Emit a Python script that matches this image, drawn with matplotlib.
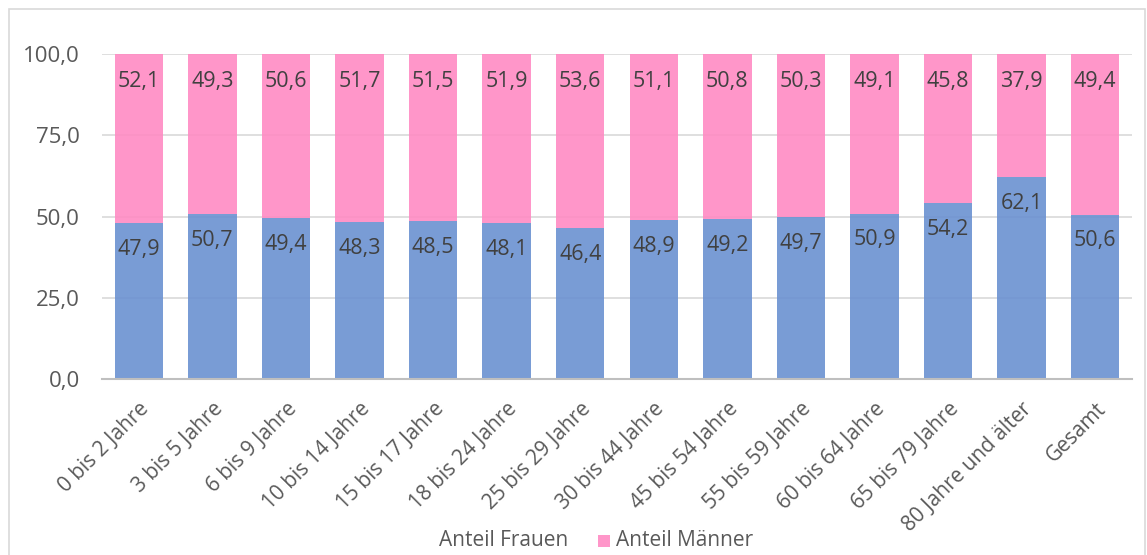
import matplotlib
matplotlib.use("Agg")
import matplotlib.pyplot as plt
from matplotlib.patches import Rectangle
import numpy as np

categories = ["0 bis 2 Jahre", "3 bis 5 Jahre", "6 bis 9 Jahre", "10 bis 14 Jahre",
              "15 bis 17 Jahre", "18 bis 24 Jahre", "25 bis 29 Jahre", "30 bis 44 Jahre",
              "45 bis 54 Jahre", "55 bis 59 Jahre", "60 bis 64 Jahre", "65 bis 79 Jahre",
              "80 Jahre und älter", "Gesamt"]
frauen = [47.9, 50.7, 49.4, 48.3, 48.5, 48.1, 46.4, 48.9, 49.2, 49.7, 50.9, 54.2, 62.1, 50.6]
maenner = [52.1, 49.3, 50.6, 51.7, 51.5, 51.9, 53.6, 51.1, 50.8, 50.3, 49.1, 45.8, 37.9, 49.4]
yticks = [0, 25, 50, 75, 100]

plt.rcParams['font.family'] = ['Open Sans', 'DejaVu Sans']
FS_TXT = 15
FS_LAB = 15.5
FS_Y = 16

W, H = 1147, 555
fig = plt.figure(figsize=(W / 100, H / 100), dpi=100)
ax = fig.add_axes([102 / W, 1 - 379 / H, 1030 / W, 325 / H])

x = np.arange(len(categories))
blue = "#6B91D1"
pink = "#FF8BC3"
a = 0.9
ax.bar(x, frauen, width=0.66, color=blue, alpha=a, zorder=3)
ax.bar(x, maenner, bottom=frauen, width=0.66, color=pink, alpha=a, zorder=3)

lab_col = "#404040"
for xi, f, m in zip(x, frauen, maenner):
    ax.annotate(f"{f:.1f}".replace(".", ","), (xi, f), xytext=(0, -19), textcoords="offset points",
                ha="center", va="center", fontsize=FS_LAB, color=lab_col, zorder=5)
    ax.annotate(f"{m:.1f}".replace(".", ","), (xi, f + m), xytext=(0, -20), textcoords="offset points",
                ha="center", va="center", fontsize=FS_LAB, color=lab_col, zorder=5)

ax.set_xlim(-0.5, len(categories) - 0.5)
ax.set_ylim(0, 100)
ax.set_yticks(yticks)
ax.set_yticklabels([f"{v:.1f}".replace(".", ",") for v in yticks], fontsize=FS_Y, color="#595959")
ax.set_xticks(x)
ax.set_xticklabels(categories, rotation=45, ha="right", rotation_mode="anchor",
                   fontsize=FS_TXT, color="#595959")
ax.tick_params(axis="both", length=0)
ax.tick_params(axis="y", pad=16)
ax.tick_params(axis="x", pad=14)
for s in ["top", "right", "left"]:
    ax.spines[s].set_visible(False)
ax.spines["bottom"].set_color("#BFBFBF")
ax.spines["bottom"].set_linewidth(1.5)
ax.spines["bottom"].set_zorder(6)
ax.yaxis.grid(True, color="#D9D9D9", linewidth=1.2, zorder=1)
ax.set_axisbelow(True)

# Legend (Frauen entry has no visible marker in the reference)
fig.text(568 / W, 1 - 541 / H, "Anteil Frauen", ha="right", va="center", fontsize=FS_TXT, color="#595959")
fig.patches.append(Rectangle((598 / W, 1 - 547 / H), 12 / W, 12 / H, transform=fig.transFigure,
                             facecolor=pink, alpha=a, edgecolor="none"))
fig.text(616 / W, 1 - 541 / H, "Anteil Männer", ha="left", va="center", fontsize=FS_TXT, color="#595959")

# outer border
fig.patches.append(Rectangle((8.5 / W, -0.05), (1145 - 8.5) / W, 1 - 9 / H + 0.05, transform=fig.transFigure,
                             facecolor="none", edgecolor="#D9D9D9", linewidth=1.2))

fig.savefig("out.png", dpi=100)
